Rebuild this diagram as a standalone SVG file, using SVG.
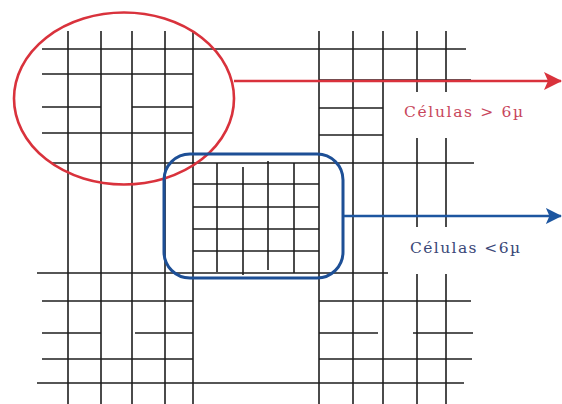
<svg xmlns="http://www.w3.org/2000/svg" width="562" height="404" viewBox="0 0 562 404">
<style>
.g line{stroke:#1e1e1e;stroke-width:1.6}
.lbl{font-family:"DejaVu Serif","Liberation Serif",serif;font-size:15.5px}
</style>
<defs>
<marker id="ar" viewBox="0 0 18 20" refX="17" refY="10" markerWidth="18" markerHeight="20" markerUnits="userSpaceOnUse" orient="auto"><path d="M0,1 L18,10 L0,19 L4,10 Z" fill="#d9323c"/></marker>
<marker id="ab" viewBox="0 0 18 20" refX="17" refY="10" markerWidth="16" markerHeight="18" markerUnits="userSpaceOnUse" orient="auto"><path d="M0,1 L18,10 L0,19 L4,10 Z" fill="#1d56a0"/></marker>
</defs>
<rect width="562" height="404" fill="#ffffff"/>
<g id="grid" class="g">
<line x1="68" y1="31" x2="68" y2="404"/>
<line x1="101" y1="31" x2="101" y2="404"/>
<line x1="132" y1="31" x2="132" y2="404"/>
<line x1="165" y1="31" x2="165" y2="404"/>
<line x1="193" y1="31" x2="193" y2="404"/>
<line x1="319" y1="31" x2="319" y2="404"/>
<line x1="353" y1="31" x2="353" y2="404"/>
<line x1="383" y1="31" x2="383" y2="404"/>
<line x1="417" y1="31" x2="417" y2="92"/>
<line x1="446" y1="31" x2="446" y2="92"/>
<line x1="417" y1="138" x2="417" y2="227"/>
<line x1="446" y1="138" x2="446" y2="227"/>
<line x1="417" y1="274" x2="417" y2="404"/>
<line x1="446" y1="274" x2="446" y2="404"/>
<line x1="42" y1="49" x2="466" y2="49"/>
<line x1="42" y1="74" x2="193" y2="74"/>
<line x1="42" y1="107" x2="101" y2="107"/>
<line x1="132" y1="107" x2="193" y2="107"/>
<line x1="42" y1="133" x2="193" y2="133"/>
<line x1="52" y1="163" x2="474" y2="163"/>
<line x1="319" y1="80" x2="471" y2="80"/>
<line x1="319" y1="108" x2="383" y2="108"/>
<line x1="319" y1="135" x2="383" y2="135"/>
<line x1="37" y1="273" x2="388" y2="273"/>
<line x1="42" y1="301" x2="193" y2="301"/>
<line x1="319" y1="301" x2="471" y2="301"/>
<line x1="42" y1="333" x2="101" y2="333"/>
<line x1="135" y1="333" x2="193" y2="333"/>
<line x1="319" y1="333" x2="378" y2="333"/>
<line x1="413" y1="333" x2="473" y2="333"/>
<line x1="42" y1="359" x2="193" y2="359"/>
<line x1="319" y1="359" x2="472" y2="359"/>
<line x1="37" y1="383" x2="464" y2="383"/>
<line x1="217" y1="163" x2="217" y2="272"/>
<line x1="243" y1="167" x2="243" y2="275"/>
<line x1="268" y1="161" x2="268" y2="270"/>
<line x1="294" y1="163" x2="294" y2="273"/>
<line x1="193" y1="184" x2="319" y2="184"/>
<line x1="193" y1="207" x2="319" y2="207"/>
<line x1="193" y1="229" x2="319" y2="229"/>
<line x1="193" y1="251" x2="319" y2="251"/>
</g>
<g id="large-cells">
<ellipse cx="124" cy="98.5" rx="110" ry="86" fill="none" stroke="#d9323c" stroke-width="2.6"/>
</g>
<g id="small-cells">
<rect x="164" y="154" width="179" height="124" rx="26" ry="26" fill="none" stroke="#1d4f96" stroke-width="3"/>
</g>
<g id="connectors">
<line x1="234" y1="81" x2="561" y2="81" stroke="#d9323c" stroke-width="2.4" marker-end="url(#ar)"/>
<line x1="344" y1="216" x2="561" y2="216" stroke="#1d56a0" stroke-width="2.4" marker-end="url(#ab)"/>
</g>
<g id="labels">
<text class="lbl" x="404" y="117" fill="#c8465c" textLength="119" lengthAdjust="spacing">Células &gt; 6µ</text>
<text class="lbl" x="410" y="253" fill="#3a4878" textLength="110" lengthAdjust="spacing">Células &lt;6µ</text>
</g>
</svg>
